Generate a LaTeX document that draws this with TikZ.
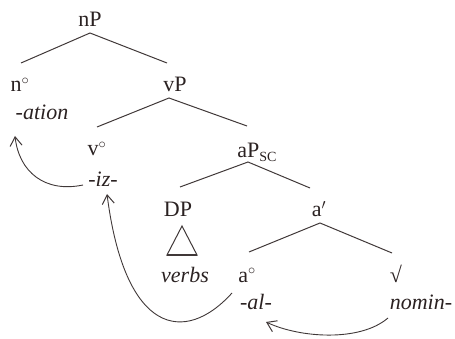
\documentclass[tikz,border=0pt]{standalone}
\usepackage{fontspec}
\setmainfont{Liberation Serif}
\usetikzlibrary{arrows.meta}
\definecolor{ink}{HTML}{2B2222}
\begin{document}
\begin{tikzpicture}[x=1pt,y=-1pt,
  lab/.style={anchor=base,inner sep=0pt,text=ink,font=\fontsize{22}{24}\selectfont},
  ital/.style={lab,font=\fontsize{22}{24}\selectfont\itshape},
  br/.style={draw=ink!90,line width=1pt},
  mv/.style={draw=ink!90,line width=0.9pt,-{Straight Barb[length=9pt,width=12pt,line width=1pt]}}]
\useasboundingbox (0,0) rectangle (455,339);
% labels
\node[lab] (nP) at (90,27) {nP};
\node[lab] (n) at (20,92) {n$^{\circ}$};
\node[ital] (ation) at (42,120) {-ation};
\node[lab] (vP) at (175,92) {vP};
\node[lab] (v) at (97,156) {v$^{\circ}$};
\node[ital] (iz) at (103,187) {-iz-};
\node[lab] (aP) at (257,158) {aP\raisebox{-0.35ex}{\fontsize{14}{14}\selectfont SC}};
\node[lab] (DP) at (178,217) {DP};
\node[ital] (verbs) at (185,282) {verbs};
\node[lab] (ap) at (319,217) {a$'$};
\node[lab] (a) at (247,282) {a$^{\circ}$};
\node[lab] (root) at (396,282) {√};
\node[ital] (al) at (256,309) {-al-};
\node[ital] (nomin) at (421,309) {nomin-};
% branch points
\coordinate (nPb) at (90,33);
\coordinate (nt) at (21,63);
\coordinate (vPt) at (167,63);
\coordinate (vPb) at (169,98);
\coordinate (vt) at (97,127);
\coordinate (aPt) at (247,126);
\coordinate (aPb) at (248,162);
\coordinate (DPt) at (180,187);
\coordinate (apt) at (310,188);
\coordinate (apb) at (320,223);
\coordinate (at) at (249,252);
\coordinate (rt) at (392,253);
\draw[br] (nt) -- (nPb) -- (vPt);
\draw[br] (vt) -- (vPb) -- (aPt);
\draw[br] (DPt) -- (aPb) -- (apt);
\draw[br] (at) -- (apb) -- (rt);
% triangle
\coordinate (tA) at (182,226);
\coordinate (tL) at (167,255);
\coordinate (tR) at (197,255);
\draw[br] (tA) -- (tL) -- (tR) -- cycle;
\draw[draw=ink!90,line width=2pt] (tL) -- (tR);
% movement arrows
\coordinate (s1) at (83,185);
\coordinate (e1) at (15,136);
\draw[mv] (s1) .. controls (45,193) and (19,172) .. (e1);
\coordinate (s2) at (232,293);
\coordinate (e2) at (107,194);
\draw[mv] (s2) .. controls (185,345) and (125,335) .. (e2);
\coordinate (s3) at (388,318);
\coordinate (e3) at (266,322);
\draw[mv] (s3) .. controls (360,342) and (300,338) .. (e3);
\end{tikzpicture}
\end{document}
